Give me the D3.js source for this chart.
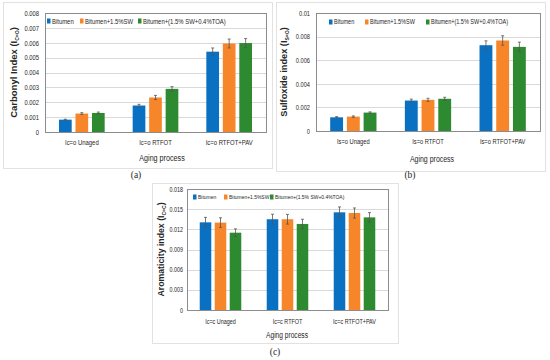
<!DOCTYPE html>
<html>
<head>
<meta charset="utf-8">
<script src="https://cdn.jsdelivr.net/npm/d3@7"></script>
<style>
  body { margin: 0; background: #fff; }
  svg text { font-family: "Liberation Sans", Arial, sans-serif; fill: #262626; }
</style>
</head>
<body>
<svg id="chart" width="550" height="360"></svg>
<script>
// series shared by the three panels
var seriesNames = ["Bitumen", "Bitumen+1.5%SW", "Bitumen+(1.5% SW+0.4%TOA)"];
var seriesColors = ["#0a70c2", "#f7862a", "#2d8a30"];

// (a) carbonyl index
var carbonylCats = ["Ic=o Unaged", "Ic=o RTFOT", "Ic=o RTFOT+PAV"];
var carbonylBitumen = [0.00083, 0.00178, 0.0054];
var carbonylSW = [0.00124, 0.00232, 0.00595];
var carbonylTOA = [0.00128, 0.0029, 0.00598];
var carbonylErrBitumen = [0.00003, 0.00008, 0.00025];
var carbonylErrSW = [0.00006, 0.00014, 0.0003];
var carbonylErrTOA = [0.00006, 0.00015, 0.0003];
var carbonylTicks = [0, 0.001, 0.002, 0.003, 0.004, 0.005, 0.006, 0.007, 0.008];
var carbonylTickLabels = ["0", "0.001", "0.002", "0.003", "0.004", "0.005", "0.006", "0.007", "0.008"];

// (b) sulfoxide index
var sulfoxideCats = ["Is=o Unaged", "Is=o RTFOT", "Is=o RTFOT+PAV"];
var sulfoxideBitumen = [0.00116, 0.00258, 0.00727];
var sulfoxideSW = [0.00122, 0.00264, 0.00767];
var sulfoxideTOA = [0.00156, 0.00273, 0.00713];
var sulfoxideErrBitumen = [0.00006, 0.00012, 0.00037];
var sulfoxideErrSW = [0.00006, 0.00013, 0.0004];
var sulfoxideErrTOA = [0.00006, 0.00013, 0.0004];
var sulfoxideTicks = [0, 0.002, 0.004, 0.006, 0.008, 0.01];
var sulfoxideTickLabels = ["0", "0.002", "0.004", "0.006", "0.008", "0.01"];

// (c) aromaticity index
var aromaticCats = ["Ic=c Unaged", "Ic=c RTFOT", "Ic=c RTFOT+PAV"];
var aromaticBitumen = [0.01304, 0.0135, 0.01453];
var aromaticSW = [0.013, 0.0135, 0.01443];
var aromaticTOA = [0.0115, 0.0128, 0.01378];
var aromaticErrBitumen = [0.00074, 0.00075, 0.0008];
var aromaticErrSW = [0.00072, 0.00072, 0.00075];
var aromaticErrTOA = [0.00057, 0.0007, 0.0007];
var aromaticTicks = [0, 0.003, 0.006, 0.009, 0.012, 0.015, 0.018];
var aromaticTickLabels = ["0", "0.003", "0.006", "0.009", "0.012", "0.015", "0.018"];

var svg = d3.select("#chart");
var squeeze = 0.8; // no narrow font installed, so squeeze glyphs horizontally

// squeeze a text that sits in its own tick group
function narrowTick(sel) {
    sel.each(function () {
        var t = d3.select(this);
        var x = +t.attr("x") || 0;
        t.attr("x", x / squeeze).attr("transform", "scale(" + squeeze + ",1)");
    });
}

function drawPanel(p) {
    // light outer frame of the sub figure
    svg.append("rect")
        .attr("x", p.frame[0] + 0.5).attr("y", p.frame[1] + 0.5)
        .attr("width", p.frame[2]).attr("height", p.frame[3])
        .attr("fill", "none").attr("stroke", "#e2e2e2");

    var w = p.right - p.left, h = p.bottom - p.top;
    var g = svg.append("g").attr("transform", "translate(" + p.left + "," + p.top + ")");

    var y = d3.scaleLinear().domain([0, p.ticks[p.ticks.length - 1]]).range([h, 0]);
    var x0 = d3.scaleBand().domain(p.cats).range([0, w]).paddingInner(0.38).paddingOuter(0.19);
    var x1 = d3.scaleBand().domain(d3.range(seriesNames.length)).range([0, x0.bandwidth()]).paddingInner(0.23);

    // gridlines
    g.append("g")
        .selectAll("line")
        .data(p.ticks.slice(1))
        .enter().append("line")
        .attr("x1", 0).attr("x2", w)
        .attr("y1", function (d) { return Math.round(y(d)) + 0.5; })
        .attr("y2", function (d) { return Math.round(y(d)) + 0.5; })
        .attr("stroke", "#d9d9d9");

    // y axis labels
    var yAxis = g.append("g")
        .call(d3.axisLeft(y).tickValues(p.ticks).tickSize(0).tickPadding(p.tickPad)
            .tickFormat(function (d, i) { return p.tickLabels[i]; }));
    yAxis.select(".domain").remove();
    yAxis.selectAll("text").style("font-size", (7.3 * p.fontScale) + "px").style("font-family", null).call(narrowTick);

    // bars
    var groups = g.selectAll(".grp")
        .data(p.cats)
        .enter().append("g")
        .attr("class", "grp")
        .attr("transform", function (d) { return "translate(" + x0(d) + ",0)"; });

    groups.each(function (cat, ci) {
        var gg = d3.select(this);
        p.values.forEach(function (vals, si) {
            var v = vals[ci], e = p.errors[si][ci];
            var bx = x1(si), bw = x1.bandwidth();
            gg.append("rect")
                .attr("x", bx).attr("y", y(v))
                .attr("width", bw).attr("height", h - y(v))
                .attr("fill", seriesColors[si]);
            var cx = bx + bw / 2;
            gg.append("line")
                .attr("x1", cx).attr("x2", cx)
                .attr("y1", y(v + e)).attr("y2", y(v - e))
                .attr("stroke", "#555").attr("stroke-width", 0.8);
            [v + e, v - e].forEach(function (t) {
                gg.append("line")
                    .attr("x1", cx - 1.5).attr("x2", cx + 1.5)
                    .attr("y1", y(t)).attr("y2", y(t))
                    .attr("stroke", "#555").attr("stroke-width", 0.8);
            });
        });
    });

    // category labels
    var xAxis = g.append("g")
        .attr("transform", "translate(0," + h + ")")
        .call(d3.axisBottom(x0).tickSize(0).tickPadding(p.catPad));
    xAxis.select(".domain").remove();
    xAxis.selectAll("text").style("font-size", (7.4 * p.fontScale) + "px").style("font-family", null).call(narrowTick);

    // plot border
    g.append("rect")
        .attr("x", 0.5).attr("y", 0.5).attr("width", w).attr("height", h)
        .attr("fill", "none").attr("stroke", "#8c8c8c").attr("stroke-width", 1);

    // legend inside plot
    var leg = g.append("g").attr("transform", "translate(0," + p.legendY + ")");
    seriesNames.forEach(function (name, i) {
        leg.append("rect")
            .attr("x", p.legendX[i]).attr("y", -2.5)
            .attr("width", 3.5).attr("height", 5)
            .attr("fill", seriesColors[i]);
        leg.append("g")
            .attr("transform", "translate(" + (p.legendX[i] + 5) + ",0) scale(" + squeeze + ",1)")
            .append("text")
            .attr("dy", "0.35em")
            .style("font-size", p.legendFont + "px")
            .text(name);
    });

    // y title with subscript
    var yt = svg.append("text")
        .attr("transform", "translate(" + p.yTitleX + "," + (p.top + h / 2) + ") rotate(-90)")
        .attr("text-anchor", "middle")
        .attr("dy", "0.35em")
        .style("font-weight", "bold")
        .style("font-size", (9.5 * p.fontScale) + "px");
    yt.append("tspan").text(p.yTitle[0]);
    yt.append("tspan").attr("dy", "1.5").style("font-size", "5px").text(p.yTitle[1]);
    yt.append("tspan").attr("dy", "-1.5").text(")");

    // x title
    svg.append("g")
        .attr("transform", "translate(" + p.xTitleX + "," + (p.bottom + p.xTitleDy) + ") scale(" + squeeze + ",1)")
        .append("text")
        .attr("text-anchor", "middle")
        .style("font-size", (9 * p.fontScale) + "px")
        .text("Aging process");

    // panel letter
    svg.append("text")
        .attr("x", p.letter[0]).attr("y", p.letter[1])
        .attr("text-anchor", "middle")
        .style("font-family", "'Liberation Serif', 'DejaVu Serif', serif")
        .style("font-size", "9.5px")
        .text(p.letter[2]);
}

drawPanel({
    frame: [3, 2, 269, 166], left: 45, top: 13, right: 266, bottom: 132,
    cats: carbonylCats,
    values: [carbonylBitumen, carbonylSW, carbonylTOA],
    errors: [carbonylErrBitumen, carbonylErrSW, carbonylErrTOA],
    ticks: carbonylTicks, tickLabels: carbonylTickLabels, tickPad: 6, catPad: 8,
    fontScale: 1, legendFont: 7.4,
    legendY: 8, legendX: [2, 35, 93],
    yTitle: ["Carbonyl Index (I", "C=O"], yTitleX: 14,
    xTitleX: 162, xTitleDy: 29,
    letter: [136, 178, "(a)"]
});

drawPanel({
    frame: [276, 2, 269, 169], left: 316, top: 13, right: 540, bottom: 131,
    cats: sulfoxideCats,
    values: [sulfoxideBitumen, sulfoxideSW, sulfoxideTOA],
    errors: [sulfoxideErrBitumen, sulfoxideErrSW, sulfoxideErrTOA],
    ticks: sulfoxideTicks, tickLabels: sulfoxideTickLabels, tickPad: 6, catPad: 8,
    fontScale: 0.97, legendFont: 6.9,
    legendY: 9, legendX: [13, 49, 110],
    yTitle: ["Sulfoxide index (I", "S=O"], yTitleX: 284,
    xTitleX: 432, xTitleDy: 31,
    letter: [410, 178, "(b)"]
});

drawPanel({
    frame: [152, 183, 246, 160], left: 187, top: 189, right: 388, bottom: 310,
    cats: aromaticCats,
    values: [aromaticBitumen, aromaticSW, aromaticTOA],
    errors: [aromaticErrBitumen, aromaticErrSW, aromaticErrTOA],
    ticks: aromaticTicks, tickLabels: aromaticTickLabels, tickPad: 4, catPad: 9,
    fontScale: 0.92, legendFont: 6.2,
    legendY: 8, legendX: [6, 37, 83],
    yTitle: ["Aromaticity index (I", "C=C"], yTitleX: 161,
    xTitleX: 287, xTitleDy: 28,
    letter: [275, 355, "(c)"]
});
</script>
</body>
</html>
